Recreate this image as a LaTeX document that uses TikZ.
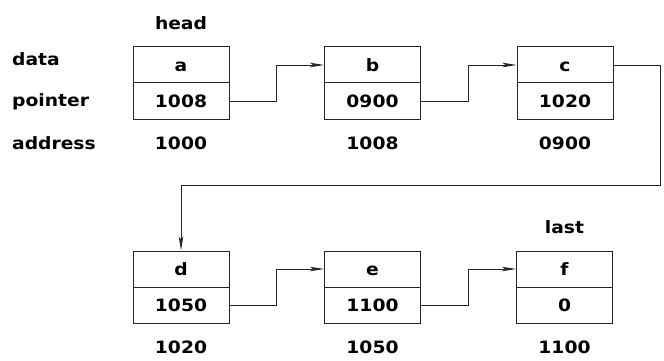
\documentclass[tikz,border=0pt]{standalone}
\usepackage{fontspec}
\setmainfont{DejaVu Sans}[BoldFont={DejaVu Sans Bold},BoldFeatures={FakeStretch=1.1}]
\usetikzlibrary{arrows.meta}
\begin{document}
\begin{tikzpicture}[x=1pt,y=-1pt,
  every node/.style={font=\fontsize{17}{20}\selectfont\bfseries, text=black},
  cell/.style={draw=black!85, line width=1pt, minimum width=96pt, minimum height=36pt,
    inner sep=0pt, text height=12.4pt, text depth=0pt},
  lbl/.style={anchor=base west, inner sep=0pt},
  txt/.style={anchor=base, inner sep=0pt},
  arr/.style={draw=black!85, line width=0.9pt, -{Stealth[length=14pt,width=4.5pt,inset=3pt]}}]
\fill[white] (0,0) rectangle (664,361);
\useasboundingbox (0,0) rectangle (664,361);
% row labels
\node[lbl] (ldata) at (12,66) {data};
\node[lbl] (lptr) at (12,106.7) {pointer};
\node[lbl] (laddr) at (12,149) {address};
% top row
\node[cell] (aD) at (181,65) {a};
\node[cell] (aP) at (181,101) {1008};
\node[cell] (bD) at (372.5,65) {b};
\node[cell] (bP) at (372.5,101) {0900};
\node[cell] (cD) at (565,65) {c};
\node[cell] (cP) at (565,101) {1020};
\node[txt] (head) at (181,29.3) {head};
\node[txt] (adA) at (181,149) {1000};
\node[txt] (adB) at (372.5,149) {1008};
\node[txt] (adC) at (565,149) {0900};
% bottom row
\node[cell] (dD) at (181,269) {d};
\node[cell] (dP) at (181,305) {1050};
\node[cell] (eD) at (372.5,269) {e};
\node[cell] (eP) at (372.5,305) {1100};
\node[cell] (fD) at (564.5,269) {f};
\node[cell] (fP) at (564.5,305) {0};
\node[txt] (last) at (564.5,233) {last};
\node[txt] (adD) at (181,353) {1020};
\node[txt] (adE) at (372.5,353) {1050};
\node[txt] (adF) at (564.5,353) {1100};
% connectors
\draw[arr] (aP.east) -- ++(47,0) |- (bD.west);
\draw[arr] (bP.east) -- ++(47,0) |- (cD.west);
\coordinate (turn) at (660,185);
\draw[arr] (cD.east) -| (turn) -| (dD.north);
\draw[arr] (dP.east) -- ++(47,0) |- (eD.west);
\draw[arr] (eP.east) -- ++(47,0) |- (fD.west);
\end{tikzpicture}
\end{document}
